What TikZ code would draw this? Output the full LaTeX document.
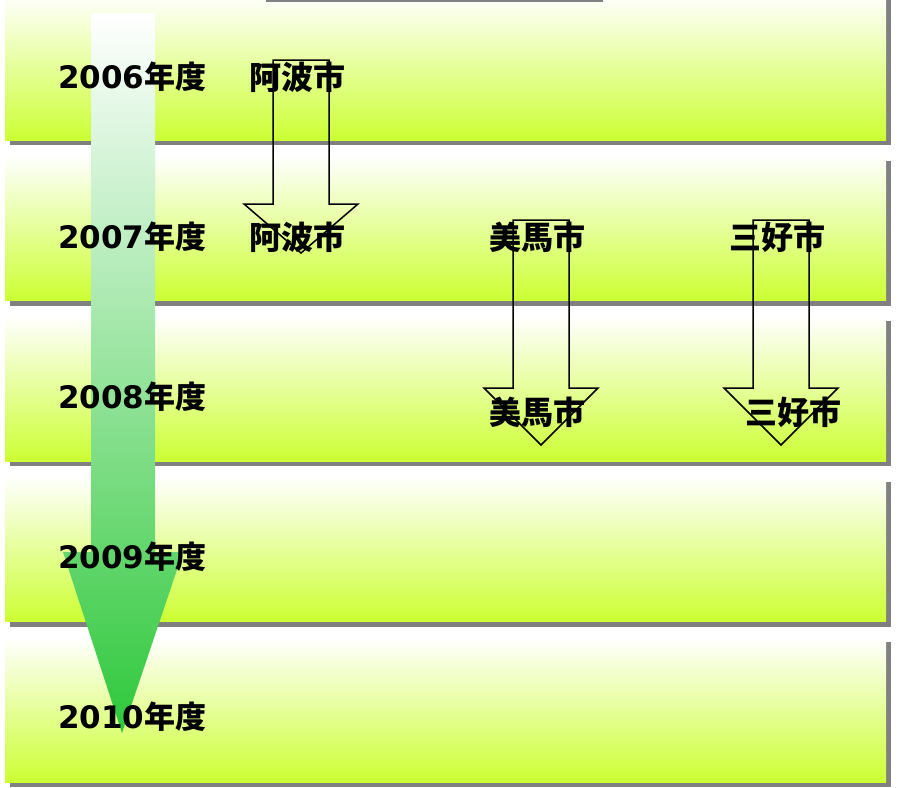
\documentclass[tikz,border=0pt]{standalone}
\usepackage{fontspec}
\setmainfont{Noto Sans CJK JP}
\newfontfamily\digitfont{DejaVu Sans}
\usetikzlibrary{positioning}
\definecolor{bandlime}{RGB}{204,255,51}
\definecolor{flowgreen}{RGB}{46,200,59}
\definecolor{shadowgray}{RGB}{128,128,128}
\newcommand{\nendo}[1]{{\digitfont\bfseries #1}年度}

\begin{document}
\begin{tikzpicture}[x=1pt,y=-1pt,
  yearlabel/.style={anchor=west,inner sep=0pt,font=\fontsize{31}{31}\selectfont\bfseries},
  city/.style={anchor=west,inner sep=0pt,font=\fontsize{32}{32}\selectfont\bfseries},
  blockarrow/.style={draw=black,line width=1.5pt,line join=miter}]
  \useasboundingbox (0,0) rectangle (899,787);

  % year bands with shadow
  \foreach \i in {0,...,4}
  {
    \fill[shadowgray] (10,{160.5*\i}) rectangle (891,{145+160.5*\i});
    \shade[top color=white,middle color=bandlime!25!white,bottom color=bandlime]
      (5,{-5+160.5*\i}) rectangle (886,{140+160.5*\i});
  }
  \fill[shadowgray] (266,-3) rectangle (603,2);

  % big flow arrow
  \shade[top color=white,middle color=flowgreen!35!white,bottom color=flowgreen]
    (91,13) -- (155,13) -- (155,552) -- (183,552) -- (122,733)
    -- (63,552) -- (91,552) -- cycle;

  % hollow arrows between years
  \foreach \cx/\ty/\hy/\tipy in {301/60/204/253, 541/220/388/445, 781/220/388/445}
    \draw[blockarrow] ({\cx-28},\ty) -- ({\cx+28},\ty) -- ({\cx+28},\hy)
      -- ({\cx+57},\hy) -- (\cx,\tipy) -- ({\cx-57},\hy) -- ({\cx-28},\hy) -- cycle;

  % labels
  \foreach \yr [count=\i from 0] in {2006,...,2010}
    \node[yearlabel] (y\yr) at (58,{77+160*\i}) {\nendo{\yr}};

  \node[city] (awa06) at (249,77) {阿波市};
  \node[city] (awa07) at (249,237) {阿波市};
  \node[city] (mima07) at (489,237) {美馬市};
  \node[city] (miyoshi07) at (729,237) {三好市};
  \node[city] (mima08) at (489,412) {美馬市};
  \node[city] (miyoshi08) at (745,412) {三好市};
\end{tikzpicture}
\end{document}
